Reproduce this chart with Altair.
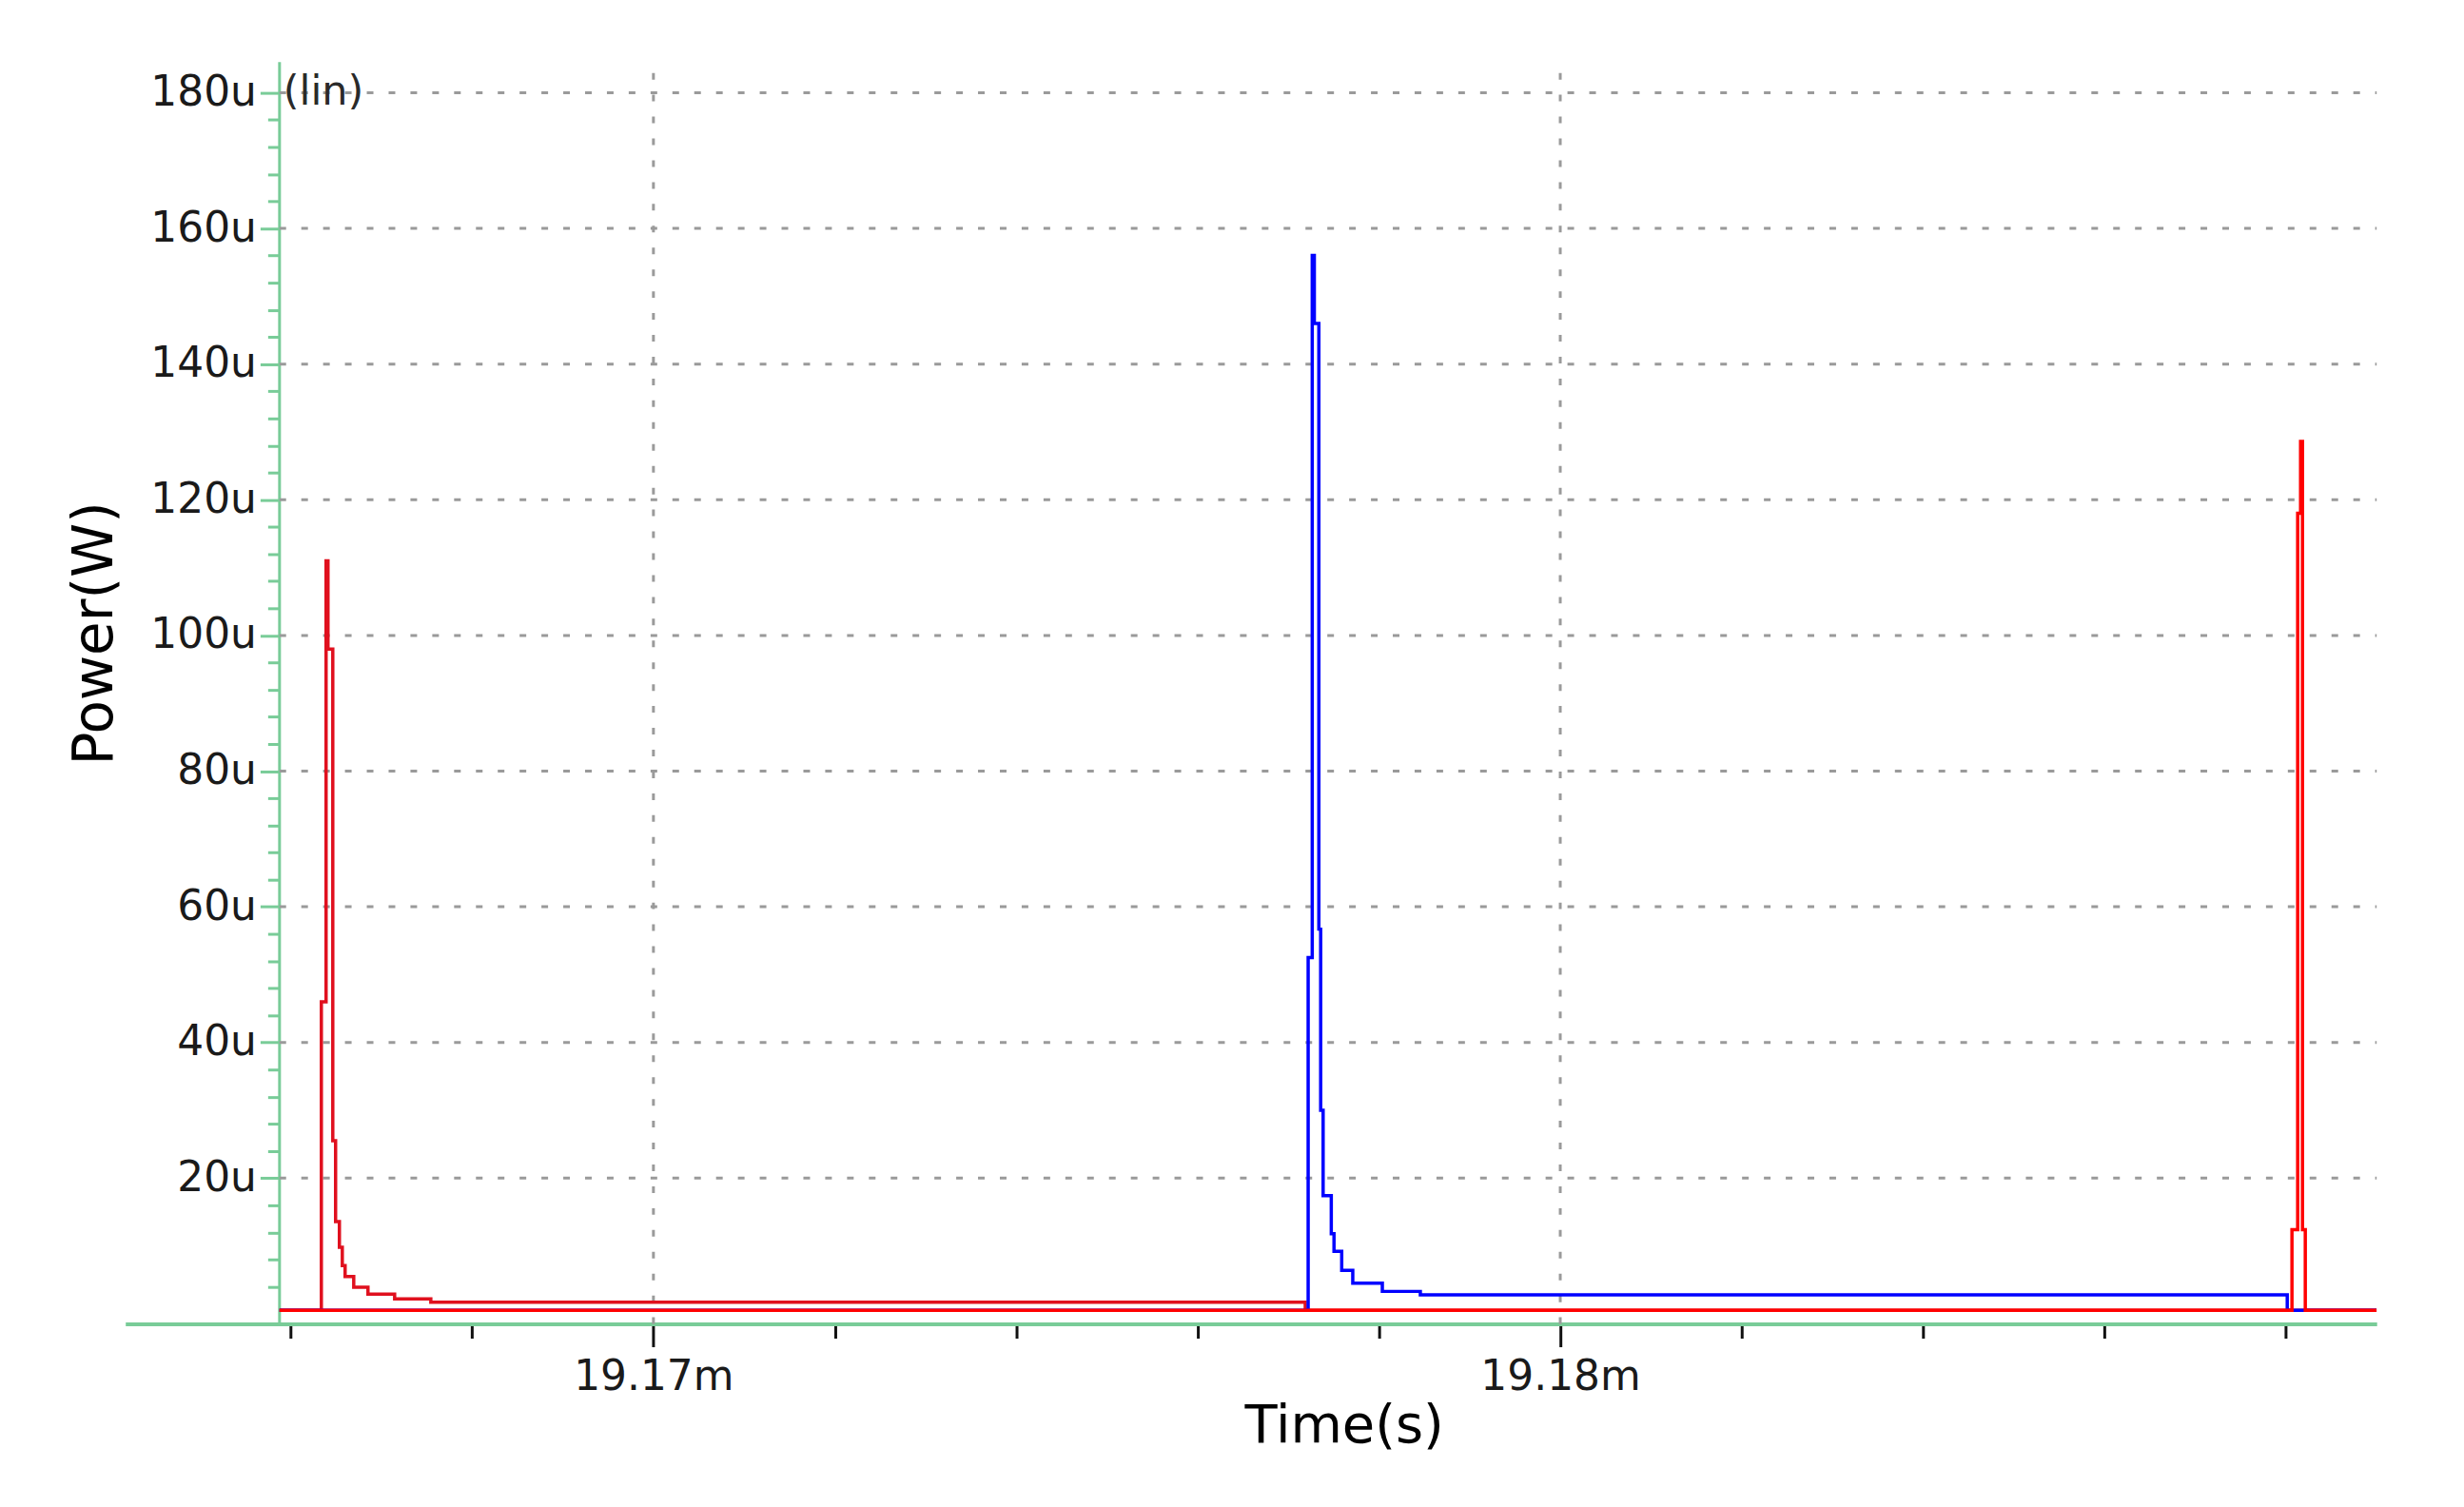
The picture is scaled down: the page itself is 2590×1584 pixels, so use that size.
import altair as alt
import pandas as pd

# ---------------- data (time in ms, power in uW) ----------------
# red trace 1 (left switching event)
red1_t = [19.165876, 19.166338, 19.166390, 19.166411, 19.166464, 19.166495,
          19.166537, 19.166569, 19.166600, 19.166695, 19.166852, 19.167146,
          19.167545, 19.177188, 19.189003]
red1_p = [0.5, 46.0, 111.0, 98.0, 25.5, 13.6,
          9.8, 7.1, 5.5, 3.9, 2.9, 2.2,
          1.7, 0.5, 0.5]

# blue trace (middle switching event)
blue_t = [19.165876, 19.177220, 19.177265, 19.177288, 19.177338, 19.177358,
          19.177385, 19.177475, 19.177505, 19.177590, 19.177712, 19.178038,
          19.178457, 19.188017, 19.189003]
blue_p = [0.5, 52.5, 156.0, 146.0, 56.7, 30.0,
          17.4, 11.8, 9.2, 6.4, 4.5, 3.3,
          2.8, 0.5, 0.5]

# red trace 2 (right switching event)
red2_t = [19.165876, 19.188069, 19.188132, 19.188164, 19.188185, 19.188216, 19.189003]
red2_p = [0.5, 12.4, 118.0, 128.6, 12.4, 0.5, 0.5]

x_ticks = [19.166, 19.168, 19.170, 19.172, 19.174, 19.176,
           19.178, 19.180, 19.182, 19.184, 19.186, 19.188]
x_grid = [19.17, 19.18]
y_ticks = list(range(4, 184, 4))
y_grid = [20, 40, 60, 80, 100, 120, 140, 160, 180]

X_MIN, X_MAX = 19.164176, 19.189003
Y_AXIS_T = 19.165876
Y_MIN, Y_MAX = -1.5, 184.6

W, H = 2372, 1330
GREEN = "#79cc98"
FONT = "DejaVu Sans"

xscale = alt.Scale(domain=[X_MIN, X_MAX], nice=False, zero=False)
yscale = alt.Scale(domain=[Y_MIN, Y_MAX], nice=False, zero=False)

xaxis = alt.Axis(
    values=x_ticks,
    labelExpr="abs(datum.value * 100 - round(datum.value * 100)) < 1e-6 ? format(datum.value, '.2f') + 'm' : ''",
    grid=False,
    domainColor=GREEN, domainWidth=4,
    tickColor="#111111", tickWidth=3,
    tickSize={"condition": {"test": "abs(datum.value * 100 - round(datum.value * 100)) < 1e-6", "value": 24}, "value": 15},
    labelFont=FONT, labelFontSize=44, labelColor="#1a1a1a", labelPadding=10,
    labelFlush=False, labelOverlap=False, labelAngle=0,
    title="Time(s)", titleFont=FONT, titleFontSize=56, titleFontWeight="normal",
    titleColor="#000000", titleX=1284, titleY=124, titleAnchor="start",
    titleAlign="center", titleBaseline="alphabetic",
)
yaxis = alt.Axis(
    values=y_ticks,
    labelExpr="datum.value % 20 === 0 ? datum.value + 'u' : ''",
    grid=False, offset=-162,
    domainColor=GREEN, domainWidth=3,
    tickColor=GREEN, tickWidth=3,
    tickSize={"condition": {"test": "datum.value % 20 === 0", "value": 20}, "value": 12},
    labelFont=FONT, labelFontSize=44, labelColor="#1a1a1a", labelPadding=4,
    labelFlush=False, labelOverlap=False,
    title="Power(W)", titleFont=FONT, titleFontSize=58, titleFontWeight="normal",
    titleColor="#000000", titleX=-193, titleY=602, titleAngle=270,
    titleAlign="center", titleBaseline="middle",
)

def xenc(field):
    return alt.X(f"{field}:Q", scale=xscale, axis=xaxis)

def yenc(field):
    return alt.Y(f"{field}:Q", scale=yscale, axis=yaxis)

hgrid_df = pd.DataFrame({"y": y_grid, "x0": [Y_AXIS_T] * len(y_grid), "x1": [X_MAX] * len(y_grid)})
vgrid_df = pd.DataFrame({"x": x_grid, "y0": [Y_MIN] * len(x_grid), "y1": [Y_MAX] * len(x_grid)})

hgrid = alt.Chart(hgrid_df).mark_rule(color="#9a9a9a", strokeWidth=3, strokeDash=[7, 16]).encode(
    x=xenc("x0"), x2="x1:Q", y=yenc("y"))
vgrid = alt.Chart(vgrid_df).mark_rule(color="#9a9a9a", strokeWidth=3, strokeDash=[7, 16]).encode(
    x=xenc("x"), y=yenc("y0"), y2="y1:Q")

def trace(ts, ps, color):
    df = pd.DataFrame({"t": ts, "p": ps})
    return alt.Chart(df).mark_line(interpolate="step-after", color=color, strokeWidth=3.5, clip=True).encode(
        x=xenc("t"), y=yenc("p"))

l_red1 = trace(red1_t, red1_p, "#e0101e")
l_blue = trace(blue_t, blue_p, "#0000ff")
l_red2 = trace(red2_t, red2_p, "#ff0000")

lin_df = pd.DataFrame({"x": [Y_AXIS_T], "y": [180], "label": ["(lin)"]})
lin = alt.Chart(lin_df).mark_text(align="left", baseline="middle", dx=4, font=FONT, fontSize=43, color="#2a2a2a").encode(
    x=xenc("x"), y=yenc("y"), text="label:N")

chart = alt.layer(hgrid, vgrid, l_red1, l_blue, l_red2, lin).properties(
    width=W, height=H,
    padding={"left": 124, "top": 55, "right": 84, "bottom": 180},
    autosize=alt.AutoSizeParams(type="none"),
    background="white",
).configure_view(stroke=None)

chart.save("out.html", embed_options={"renderer": "svg", "actions": False})
